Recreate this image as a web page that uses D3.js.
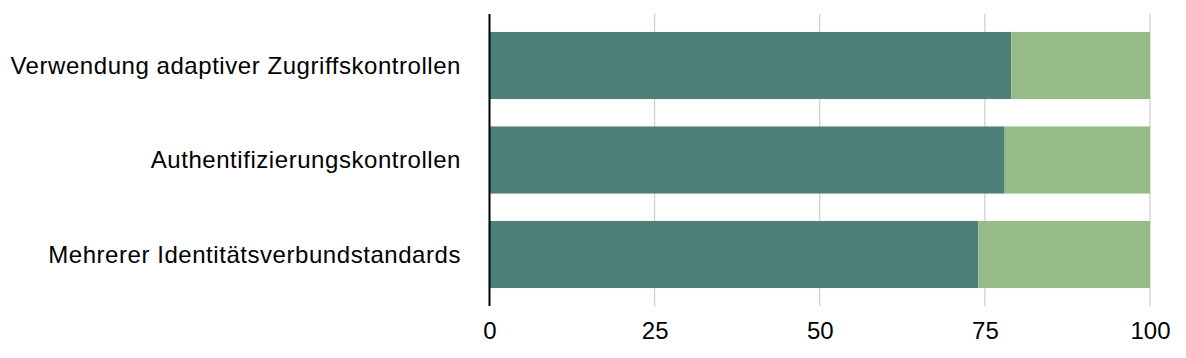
<!DOCTYPE html>
<html>
<head>
<meta charset="utf-8">
<script src="https://cdn.jsdelivr.net/npm/d3@7"></script>
<style>
  body { margin: 0; background: #fff; }
  svg { display: block; font-family: "Liberation Sans", Arial, sans-serif; }
</style>
</head>
<body>
<svg width="1186" height="358"></svg>
<script>
var categories = [
    'Verwendung adaptiver Zugriffskontrollen',
    'Authentifizierungskontrollen',
    'Mehrerer Identitätsverbundstandards'
];
var seriesA = [79, 78, 74];
var seriesB = [21, 22, 26];
var tickValues = [0, 25, 50, 75, 100];
var colors = ['#4d8078', '#97bb88'];

var svg = d3.select('svg');

var x = d3.scaleLinear().domain([0, 100]).range([489.5, 1150]);
var y = d3.scaleBand().domain(categories).range([14, 306]).paddingInner(0.29).paddingOuter(0.19);

// grid
svg.append('g')
    .selectAll('line')
    .data(tickValues.slice(1))
    .enter().append('line')
    .attr('x1', function(d) { return x(d); })
    .attr('x2', function(d) { return x(d); })
    .attr('y1', 14)
    .attr('y2', 306)
    .attr('stroke', '#c4c4c4')
    .attr('stroke-width', 1);

var rows = categories.map(function(c, i) {
    return {cat: c, a: seriesA[i], b: seriesB[i]};
});

var stack = d3.stack().keys(['a', 'b'])(rows);

svg.append('g')
    .selectAll('g')
    .data(stack)
    .enter().append('g')
    .attr('fill', function(d, i) { return colors[i]; })
    .selectAll('rect')
    .data(function(d) { return d; })
    .enter().append('rect')
    .attr('x', function(d) { return x(d[0]); })
    .attr('width', function(d) { return x(d[1]) - x(d[0]); })
    .attr('y', function(d) { return y(d.data.cat); })
    .attr('height', y.bandwidth());

// category labels
svg.append('g')
    .selectAll('text')
    .data(categories)
    .enter().append('text')
    .attr('x', 461)
    .attr('y', function(d) { return y(d) + y.bandwidth() / 2; })
    .attr('dy', '0.35em')
    .attr('text-anchor', 'end')
    .attr('font-size', 24)
    .attr('letter-spacing', 0.55)
    .attr('fill', '#000')
    .text(function(d) { return d; });

// x axis
var xAxis = d3.axisBottom(x).tickValues(tickValues).tickSize(0).tickPadding(16);
var ax = svg.append('g').attr('transform', 'translate(0,306)').call(xAxis);
ax.select('.domain').remove();
ax.selectAll('text').attr('font-size', 24).attr('fill', '#000').attr('font-family', '"Liberation Sans", Arial, sans-serif');

// baseline
svg.append('line')
    .attr('x1', x(0)).attr('x2', x(0))
    .attr('y1', 14).attr('y2', 306)
    .attr('stroke', '#000')
    .attr('stroke-width', 2);
</script>
</body>
</html>
